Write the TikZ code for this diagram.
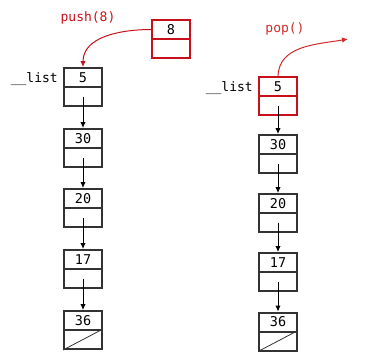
\documentclass[tikz,border=0pt]{standalone}
\usepackage{fontspec}
\setmonofont{DejaVu Sans Mono}
\usetikzlibrary{arrows.meta}
\definecolor{boxgray}{HTML}{333333}
\definecolor{hired}{HTML}{C8101A}
\definecolor{popred}{HTML}{D02A2A}
\begin{document}
\begin{tikzpicture}[x=1pt,y=1pt,
  cell/.style={draw=boxgray,line width=2pt,minimum width=38pt,minimum height=19pt,inner sep=0pt,
     font=\ttfamily\fontsize{13.5}{15}\selectfont,anchor=center},
  redcell/.style={cell,draw=hired},
  link/.style={-{Latex[length=6pt,width=5.5pt]},line width=1pt,black},
  lbl/.style={font=\ttfamily\fontsize{13}{15}\selectfont,inner sep=0pt}]
\useasboundingbox (0,0) rectangle (377,357);
% left list
\node[cell] (a5) at (83,279.5) {5};
\node[cell] (a5p) at (83,260.5) {};
\node[cell] (a30) at (83,218.5) {30};
\node[cell] (a30p) at (83,199.5) {};
\node[cell] (a20) at (83,158.5) {20};
\node[cell] (a20p) at (83,139.5) {};
\node[cell] (a17) at (83,97.5) {17};
\node[cell] (a17p) at (83,78.5) {};
\node[cell] (a36) at (83,36.5) {36};
\node[cell] (a36p) at (83,17.5) {};
\draw[line width=0.8pt,boxgray] (a36p.south west) -- (a36p.north east);
\draw[link] (a5p.center) -- (a30.north);
\draw[link] (a30p.center) -- (a20.north);
\draw[link] (a20p.center) -- (a17.north);
\draw[link] (a17p.center) -- (a36.north);
\node[lbl,anchor=east] (la) at (58,278) {\_\_list};
% new node 8
\node[redcell] (b8) at (171,327.5) {8};
\node[redcell] (b8p) at (171,308.5) {};
\node[lbl,text=hired] (push) at (88,339) {push(8)};
\draw[-{Latex[length=6pt,width=5.5pt]},line width=1pt,hired] (b8.west) to[out=180,in=90] (a5.north);
% right list
\node[redcell] (c5) at (278,270.5) {5};
\node[redcell] (c5p) at (278,251.5) {};
\node[cell] (c30) at (278,212.5) {30};
\node[cell] (c30p) at (278,193.5) {};
\node[cell] (c20) at (278,153.5) {20};
\node[cell] (c20p) at (278,134.5) {};
\node[cell] (c17) at (278,94.5) {17};
\node[cell] (c17p) at (278,75.5) {};
\node[cell] (c36) at (278,35) {36};
\node[cell] (c36p) at (278,16) {};
\draw[line width=0.8pt,boxgray] (c36p.south west) -- (c36p.north east);
\draw[link] (c5p.center) -- (c30.north);
\draw[link] (c30p.center) -- (c20.north);
\draw[link] (c20p.center) -- (c17.north);
\draw[link] (c17p.center) -- (c36.north);
\node[lbl,anchor=east] (lc) at (253,269) {\_\_list};
\node[lbl,text=popred] (pop) at (285,328) {pop()};
\coordinate (popend) at (348,318);
\draw[-{Latex[length=6pt,width=5.5pt]},line width=1pt,popred] (c5.north) to[out=88,in=190] (popend);
\end{tikzpicture}
\end{document}
